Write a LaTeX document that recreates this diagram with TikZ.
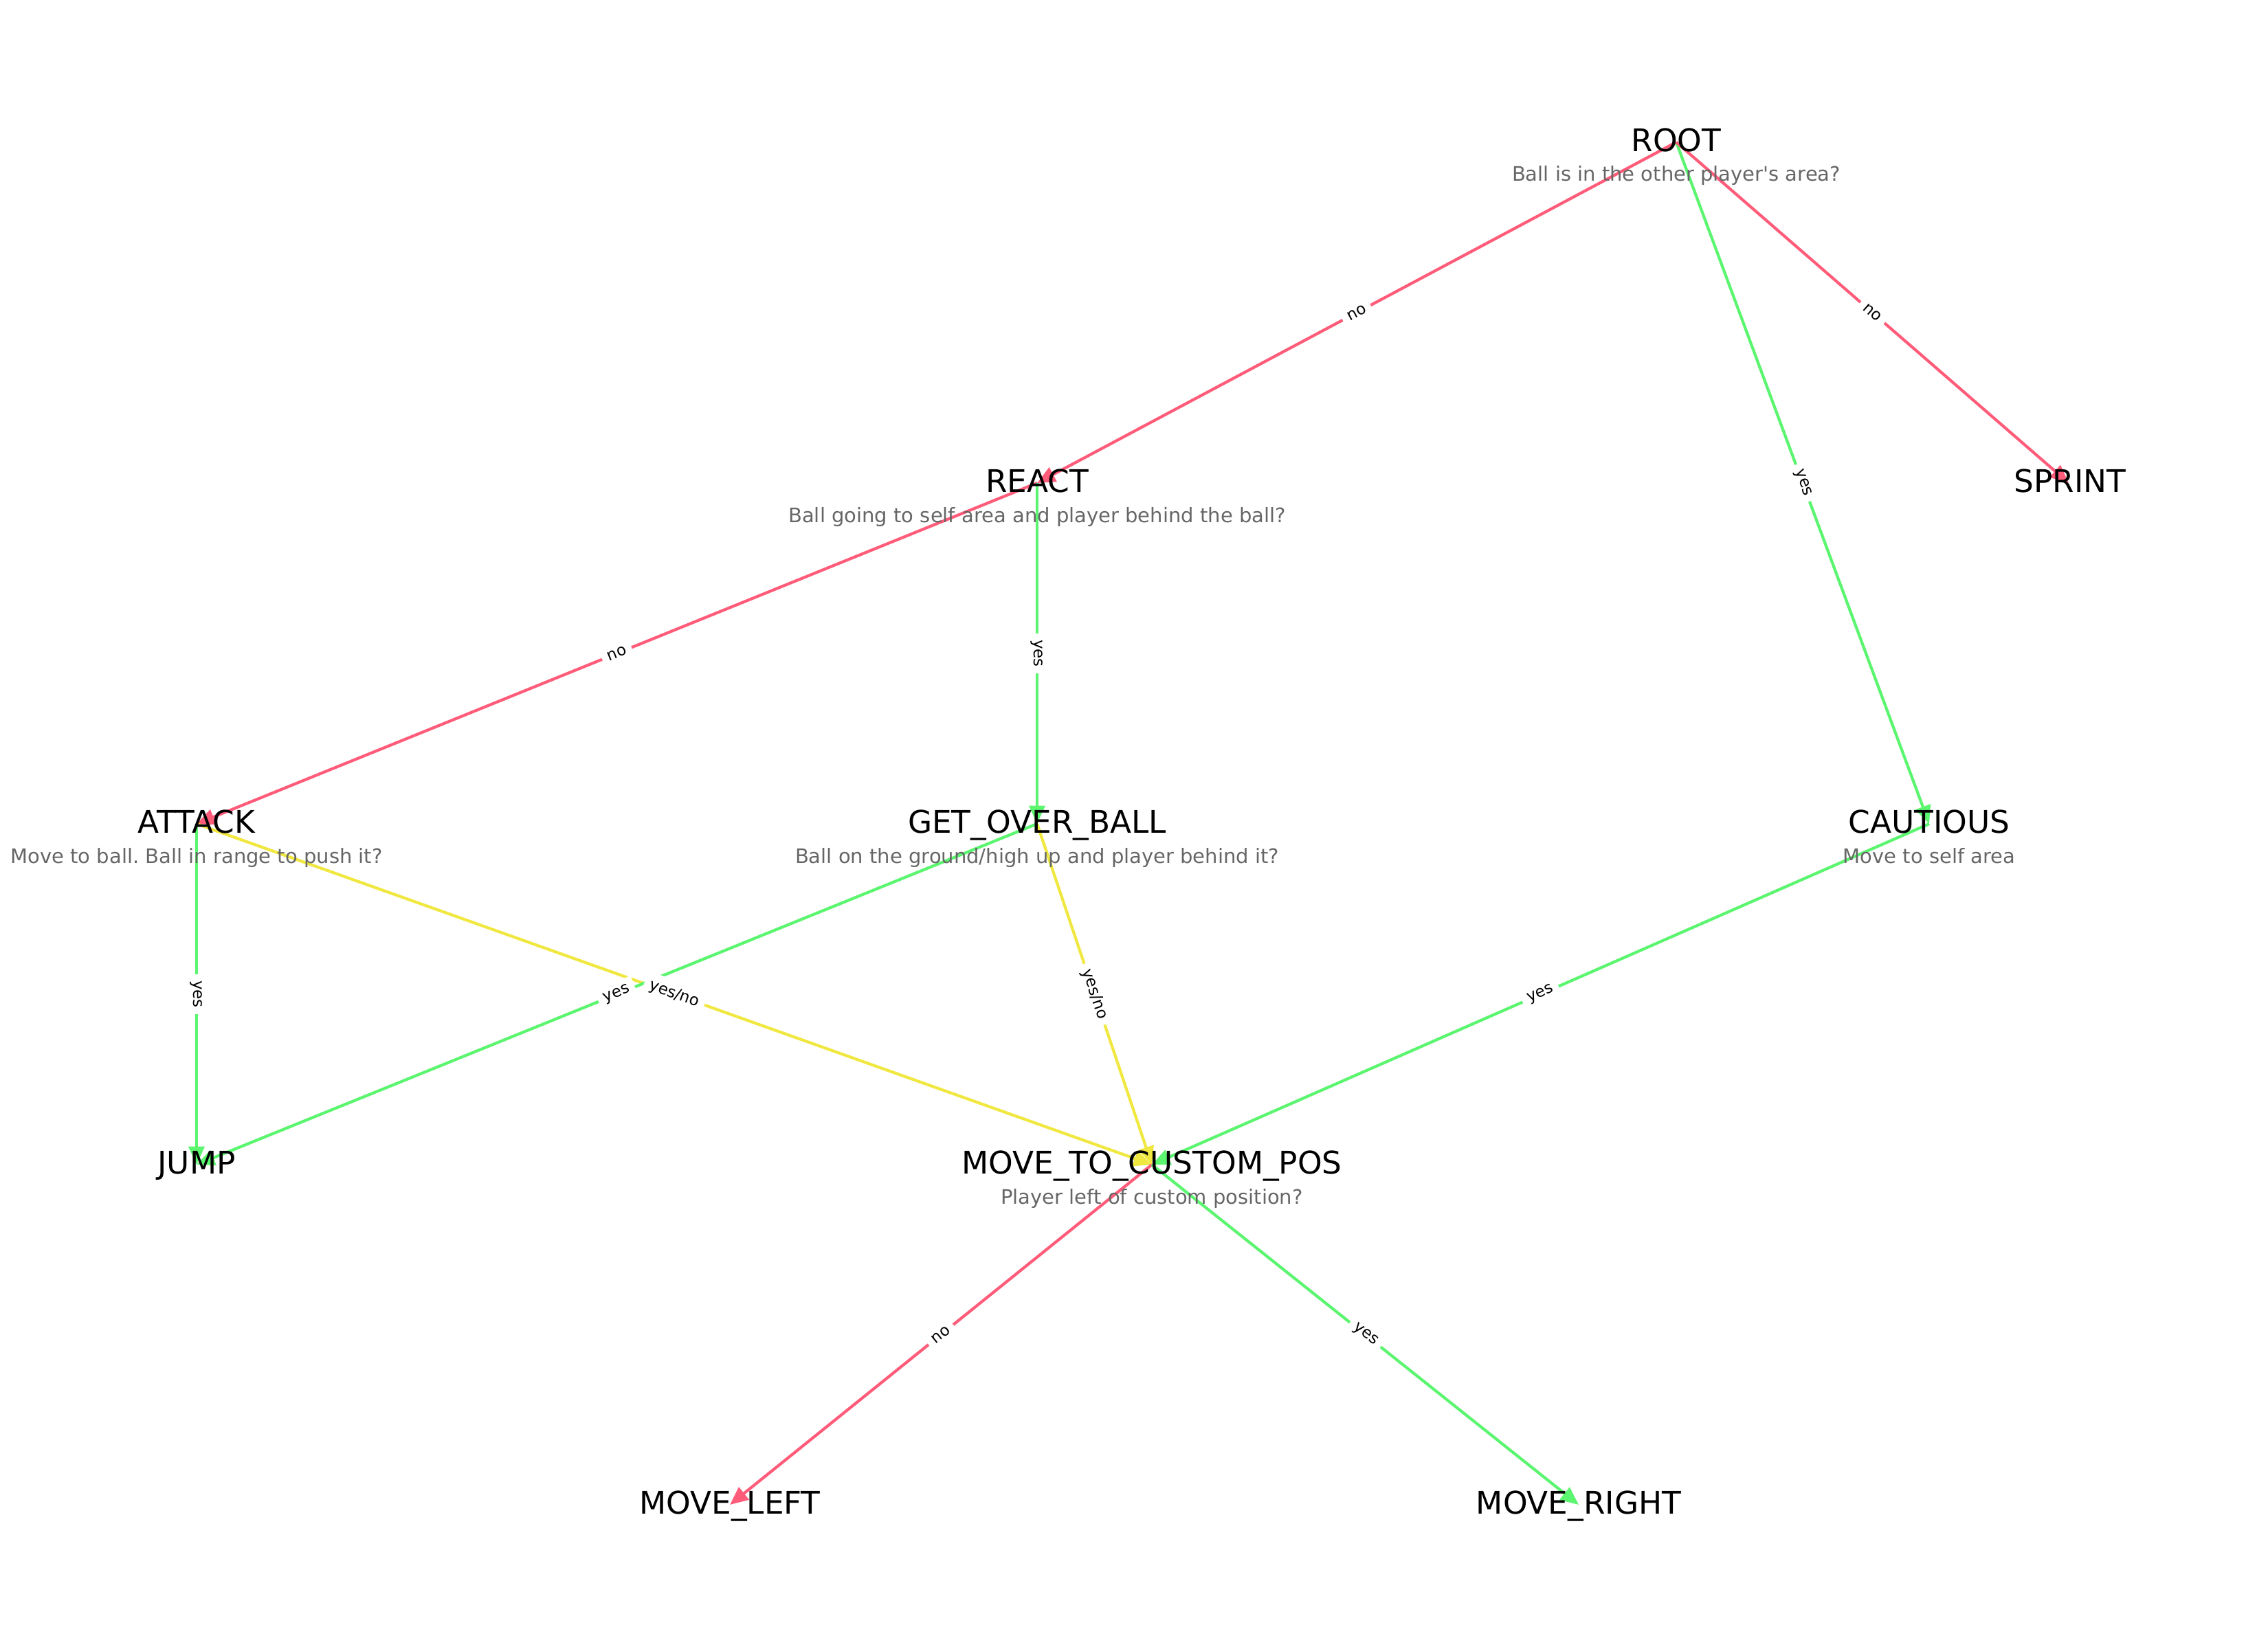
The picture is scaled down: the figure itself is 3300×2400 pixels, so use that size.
\documentclass[tikz,border=0pt]{standalone}
\usepackage{fontspec}
\setmainfont{DejaVu Sans}
\usetikzlibrary{arrows.meta}
\definecolor{ered}{RGB}{255,92,122}
\definecolor{egreen}{RGB}{92,245,112}
\definecolor{eyellow}{RGB}{240,232,64}
\definecolor{descgray}{RGB}{102,102,102}
\frenchspacing
\begin{document}
\begin{tikzpicture}[x=0.01cm,y=-0.01cm,
  edge/.style={line width=1.2pt, -{Triangle[length=7.5pt,width=6.5pt]}},
  title/.style={anchor=base, font=\fontsize{12.9}{15}\selectfont, inner sep=0pt},
  desc/.style={anchor=base, font=\fontsize{8.25}{10}\selectfont, text=descgray, inner sep=0pt},
  elab/.style={sloped, fill=white, inner sep=2.5pt, font=\fontsize{6.5}{8}\selectfont, pos=0.5}
]
\fill[white] (0,0) rectangle (3300,2400);
\useasboundingbox (0,0) rectangle (3300,2400);

\coordinate (root) at (2439,207);
\coordinate (react) at (1509,703);
\coordinate (sprint) at (3010,703);
\coordinate (attack) at (286,1199);
\coordinate (gob) at (1509,1199);
\coordinate (cautious) at (2807,1199);
\coordinate (jump) at (286,1695);
\coordinate (mtcp) at (1676,1695);
\coordinate (mleft) at (1062,2190);
\coordinate (mright) at (2297,2190);

% edges
\draw[edge, ered] (root) -- (react);
\draw[edge, egreen] (root) -- (cautious);
\draw[edge, ered] (root) -- (sprint);
\draw[edge, ered] (react) -- (attack);
\draw[edge, egreen] (react) -- (gob);
\draw[edge, egreen] (attack) -- (jump);
\draw[edge, eyellow] (attack) -- (mtcp);
\draw[edge, egreen] (gob) -- (jump);
\draw[edge, eyellow] (gob) -- (mtcp);
\draw[edge, egreen] (cautious) -- (mtcp);
\draw[edge, ered] (mtcp) -- (mleft);
\draw[edge, egreen] (mtcp) -- (mright);

% node titles
\node[title] (t-root) at (2439,220) {ROOT};
\node[title] (t-react) at (1509,716) {REACT};
\node[title] (t-sprint) at (3012,716) {SPRINT};
\node[title] (t-attack) at (286,1212) {ATTACK};
\node[title] (t-gob) at (1509,1212) {GET\_OVER\_BALL};
\node[title] (t-cautious) at (2807,1212) {CAUTIOUS};
\node[title] (t-jump) at (286,1708) {JUMP};
\node[title] (t-mtcp) at (1676,1708) {MOVE\_TO\_CUSTOM\_POS};
\node[title] (t-mleft) at (1062,2203) {MOVE\_LEFT};
\node[title] (t-mright) at (2297,2203) {MOVE\_RIGHT};

% descriptions
\node[desc] (d-root) at (2439,264) {Ball is in the other player\textquotesingle s area?};
\node[desc] (d-react) at (1509,760) {Ball going to self area and player behind the ball?};
\node[desc] (d-attack) at (286,1256) {Move to ball. Ball in range to push it?};
\node[desc] (d-gob) at (1509,1256) {Ball on the ground/high up and player behind it?};
\node[desc] (d-cautious) at (2807,1256) {Move to self area};
\node[desc] (d-mtcp) at (1676,1752) {Player left of custom position?};

% edge labels
\path (root) -- (react) node[elab] (l1) {no};
\path (root) -- (cautious) node[elab] (l2) {yes};
\path (root) -- (sprint) node[elab] (l3) {no};
\path (react) -- (attack) node[elab] (l4) {no};
\path (react) -- (gob) node[elab] (l5) {yes};
\path (attack) -- (jump) node[elab] (l6) {yes};
\path (attack) -- (mtcp) node[elab] (l7) {yes/no};
\path (gob) -- (jump) node[elab] (l8) {yes};
\path (gob) -- (mtcp) node[elab] (l9) {yes/no};
\path (cautious) -- (mtcp) node[elab] (l10) {yes};
\path (mtcp) -- (mleft) node[elab] (l11) {no};
\path (mtcp) -- (mright) node[elab] (l12) {yes};
\end{tikzpicture}
\end{document}
